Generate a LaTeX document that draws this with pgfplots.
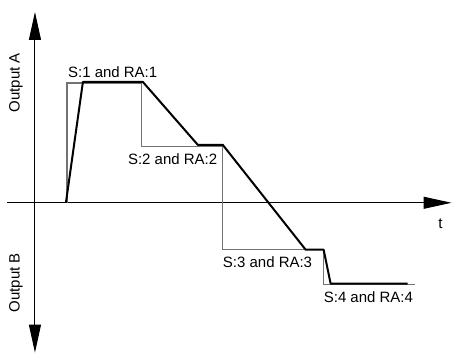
\documentclass[border=0pt]{standalone}
\usepackage{pgfplots}
\pgfplotsset{compat=1.18}
\usepackage{fontspec}
\setmainfont{Liberation Sans}
\usetikzlibrary{arrows.meta}
\begin{document}
\begin{tikzpicture}
\begin{axis}[
  scale only axis, width=452pt, height=354pt,
  xmin=-35, xmax=417, ymin=-151, ymax=203,
  axis lines=none, clip=false,
  font=\fontsize{15}{18}\selectfont,
]
\path (axis cs:-35,-151) rectangle (axis cs:417,203);
% axes
\draw[line width=1pt, -{Triangle[length=28pt,width=12pt]}] (axis cs:-28,0) -- (axis cs:417,0);
\draw[line width=1pt, {Triangle[length=28pt,width=12pt]}-{Triangle[length=28pt,width=12pt]}] (axis cs:0,-150) -- (axis cs:0,191);
% setpoint (gray)
\addplot[black!55, line width=1.2pt, line join=miter] coordinates {
(32,0) (32,120) (107,120) (107,56) (188,56) (188,-47) (289,-47) (289,-82) (380,-82)};
% output (black)
\addplot[black, line width=2pt, line join=round] coordinates {
(31,0) (48,121) (108,121) (163,58) (188,58) (271,-47) (289,-47) (296,-81) (373,-81)};
% labels
\node[anchor=base west, inner sep=0pt] at (axis cs:33,125) {S:1 and RA:1};
\node[anchor=base west, inner sep=0pt] at (axis cs:93,38) {S:2 and RA:2};
\node[anchor=base west, inner sep=0pt] at (axis cs:188,-65) {S:3 and RA:3};
\node[anchor=base west, inner sep=0pt] at (axis cs:289,-100) {S:4 and RA:4};
\node[rotate=90, inner sep=0pt] at (axis cs:-19,120) {Output A};
\node[rotate=90, inner sep=0pt] at (axis cs:-19,-80) {Output B};
\node[inner sep=0pt] at (axis cs:406,-21) {t};
\end{axis}
\end{tikzpicture}
\end{document}
